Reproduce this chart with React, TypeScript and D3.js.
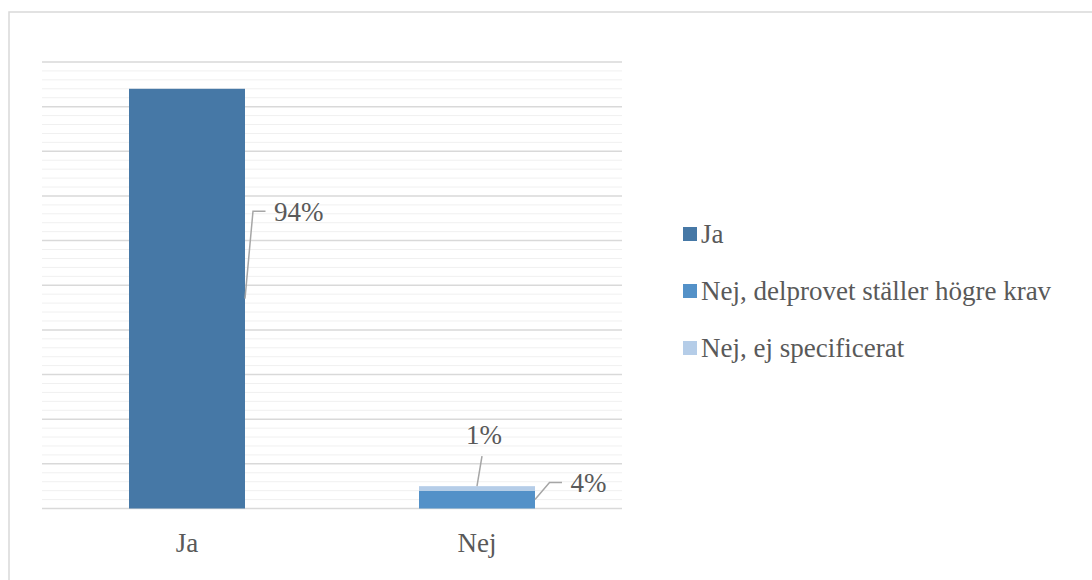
import React from "react";
import * as d3 from "d3";

const categories = ["Ja", "Nej"];
const seriesNames = ["Ja", "Nej, delprovet ställer högre krav", "Nej, ej specificerat"];
const jaValues = [0.94, 0];
const delprovValues = [0, 0.04];
const ejSpecValues = [0, 0.01];
const colors = ["#4678A6", "#5391C8", "#B5CDE8"];

const W = 1092;
const H = 580;
const FONT = "Liberation Serif";
const TEXT = "#595959";

export default function App() {
  const x = d3.scaleBand<string>().domain(categories).range([42, 622]).paddingInner(0.6).paddingOuter(0.3);
  const y = d3.scaleLinear().domain([0, 1]).range([508.5, 62]);

  const rows = categories.map((c, i) => ({
    cat: c,
    s0: jaValues[i],
    s1: delprovValues[i],
    s2: ejSpecValues[i],
  }));
  const stack = d3.stack<any>().keys(["s0", "s1", "s2"]);
  const stacked = stack(rows);

  const majorTicks = d3.range(0, 11).map((d) => d / 10);
  const minorTicks = d3.range(0, 51).map((d) => d / 50).filter((_, i) => i % 5 !== 0);

  const bw = x.bandwidth();
  const fmt = d3.format(".0%");

  const jaX = x("Ja")! + bw;
  const jaY = y(jaValues[0] / 2);
  const nejX = x("Nej")!;
  const d4Y = y(delprovValues[1] / 2);
  const d1Top = y(delprovValues[1] + ejSpecValues[1]);

  const labelStyle = { fontFamily: FONT, fontSize: 27 };

  return (
    <svg width={W} height={H} style={{ position: "absolute", left: 0, top: 0, display: "block" }}>
      <rect x={0} y={0} width={W} height={H} fill="#fff" />
      <rect x={9} y={12} width={1300} height={1000} fill="none" stroke="#d9d9d9" strokeWidth={1.5} />
      {minorTicks.map((t) => (
        <line key={"m" + t} x1={42} x2={622} y1={y(t)} y2={y(t)} stroke="#f0f0f0" strokeWidth={1} />
      ))}
      {majorTicks.map((t) => (
        <line key={"M" + t} x1={42} x2={622} y1={y(t)} y2={y(t)} stroke="#d9d9d9" strokeWidth={1.5} />
      ))}
      {stacked.map((layer, li) =>
        layer.map((d, ci) =>
          d[1] - d[0] > 0 ? (
            <rect
              key={li + "-" + ci}
              x={x(categories[ci])}
              y={y(d[1])}
              width={bw}
              height={y(d[0]) - y(d[1])}
              fill={colors[li]}
            />
          ) : null
        )
      )}
      <polyline
        points={`${jaX},${jaY} ${jaX + 8},${jaY - 87.5} ${jaX + 20.5},${jaY - 87.5}`}
        fill="none"
        stroke="#a6a6a6"
        strokeWidth={1.5}
      />
      <text x={jaX + 29} y={jaY - 77.5} fill={TEXT} style={labelStyle}>
        {fmt(jaValues[0])}
      </text>
      <polyline
        points={`${nejX + bw / 2},${d1Top} ${nejX + bw / 2 + 5},${d1Top - 30}`}
        fill="none"
        stroke="#a6a6a6"
        strokeWidth={1.5}
      />
      <text x={nejX + bw / 2 - 11} y={d1Top - 42.5} fill={TEXT} style={labelStyle}>
        {fmt(ejSpecValues[1])}
      </text>
      <polyline
        points={`${nejX + bw},${d4Y} ${nejX + bw + 14.5},${d4Y - 17} ${nejX + bw + 27},${d4Y - 17}`}
        fill="none"
        stroke="#a6a6a6"
        strokeWidth={1.5}
      />
      <text x={nejX + bw + 35.5} y={d4Y - 7.5} fill={TEXT} style={labelStyle}>
        {fmt(delprovValues[1])}
      </text>
      {categories.map((c) => (
        <text key={c} x={x(c)! + bw / 2} y={552} textAnchor="middle" fill={TEXT} style={labelStyle}>
          {c}
        </text>
      ))}
      {seriesNames.map((s, i) => (
        <g key={s} transform={`translate(683, ${227 + i * 57})`}>
          <rect x={0} y={0} width={14} height={14} fill={colors[i]} />
          <text x={18} y={15.5} fill={TEXT} style={labelStyle}>
            {s}
          </text>
        </g>
      ))}
    </svg>
  );
}
